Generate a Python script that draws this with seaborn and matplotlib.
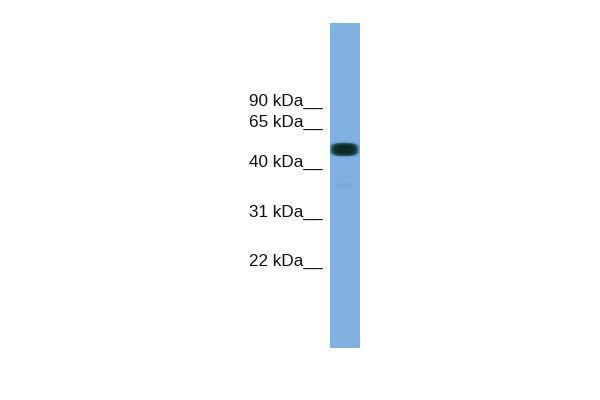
import numpy as np
import matplotlib
matplotlib.use("Agg")
import matplotlib.pyplot as plt
import seaborn as sns
from matplotlib.colors import LinearSegmentedColormap

# marker ladder (label, baseline row in image pixels)
marker_labels = ["90 kDa", "65 kDa", "40 kDa", "31 kDa", "22 kDa"]
marker_rows = [106, 127, 167, 217, 266]

# lane geometry / bands detected in the lane (row in pixels, intensity, half-width)
lane_top, lane_bottom = 23, 348
lane_left, lane_right = 330, 360
band_rows = [149, 185]
band_strength = [1.0, 0.12]
band_halfwidth = [14.5, 8]
band_halfheight = [7, 2.5]


def build_lane():
    h = lane_bottom - lane_top
    w = lane_right - lane_left
    yy, xx = np.mgrid[0:h, 0:w]
    img = np.zeros((h, w))
    cx = (w - 1) / 2 - 0.5
    for r, s, hw, hh in zip(band_rows, band_strength, band_halfwidth, band_halfheight):
        dy = np.abs(yy - (r - lane_top)) / hh
        dx = np.abs(xx - cx) / hw
        img += s * np.exp(-(dy ** 3 + dx ** 3) ** 2)
    return np.clip(img, 0, 1)


sns.set_style("white")
plt.rcParams['font.family'] = ['Liberation Sans', 'DejaVu Sans']

fig = plt.figure(figsize=(6, 4), dpi=100)
ax = fig.add_axes([0, 0, 1, 1])
ax.set_xlim(0, 600)
ax.set_ylim(400, 0)
ax.axis("off")

for lab, row in zip(marker_labels, marker_rows):
    ax.text(323, row, lab + "__", ha="right", va="baseline", fontsize=12.3, color="#111111")

cmap = LinearSegmentedColormap.from_list(
    "blot", ["#80b1e1", "#6c9bcc", "#2a5560", "#0d2922"])
lane_ax = fig.add_axes([lane_left / 600, 1 - lane_bottom / 400,
                        (lane_right - lane_left) / 600, (lane_bottom - lane_top) / 400])
sns.heatmap(build_lane(), ax=lane_ax, cmap=cmap, vmin=0, vmax=1, cbar=False,
            xticklabels=False, yticklabels=False)
lane_ax.axis("off")

fig.savefig("out.png", dpi=100)
